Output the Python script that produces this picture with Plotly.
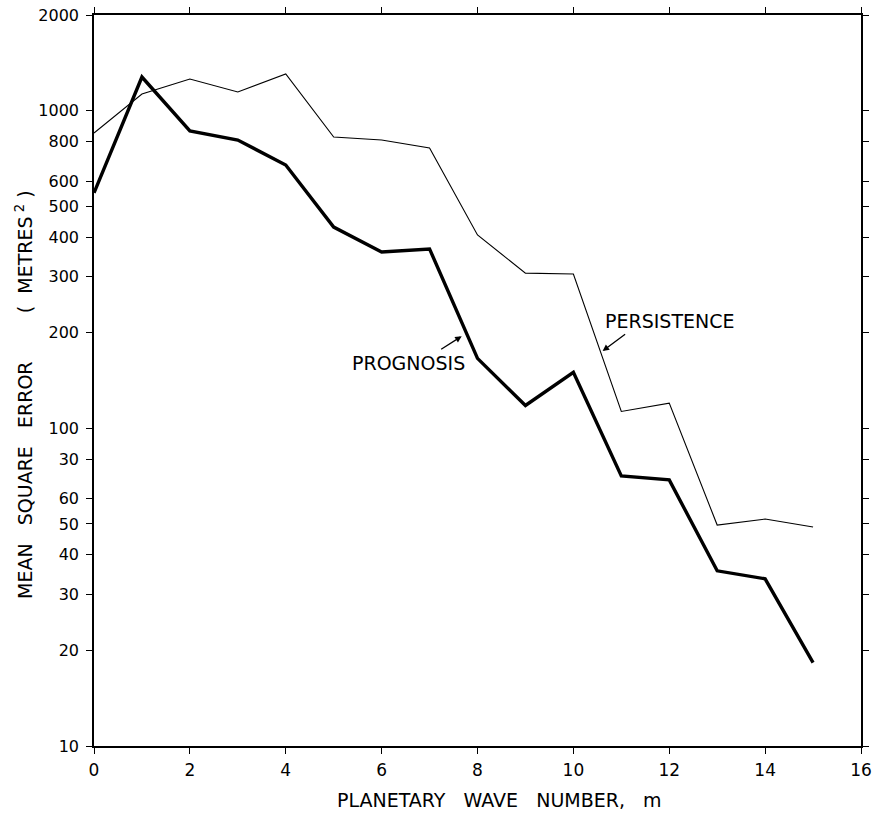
import numpy as np
import plotly.graph_objects as go

# Planetary wave number m
wave_number = list(range(16))

# Mean square error (metres^2) by wave number
persistence = [850, 1128, 1258, 1145, 1305, 826, 808, 763,
               406, 308, 306, 113, 120, 49.6, 51.8, 48.9]
prognosis = [551, 1276, 863, 808, 674, 430, 359, 367,
             166, 118, 150, 70.8, 68.8, 35.6, 33.6, 18.3]

# Y-axis tick positions and their printed labels
y_tick_vals = [10, 20, 30, 40, 50, 60, 80, 100, 200, 300, 400, 500, 600, 800, 1000, 2000]
y_tick_text = ["10", "20", "30", "40", "50", "60", "30", "100", "200", "300", "400",
               "500", "600", "800", "1000", "2000"]
x_tick_vals = list(range(0, 17, 2))

FONT = "DejaVu Sans"

W, H = 873, 813
L, R, T, B = 94, 12, 15, 67
pw, ph = W - L - R, H - T - B


def px_to_paper(px, py):
    return (px - L) / pw, (H - B - py) / ph


fig = go.Figure()
fig.add_trace(go.Scatter(x=wave_number, y=persistence, mode="lines",
                         line=dict(color="black", width=1.1), name="PERSISTENCE",
                         showlegend=False))
fig.add_trace(go.Scatter(x=wave_number, y=prognosis, mode="lines",
                         line=dict(color="black", width=3.4), name="PROGNOSIS",
                         showlegend=False))

axis_common = dict(showgrid=False, zeroline=False, showline=True, linecolor="black",
                   linewidth=1.5, ticks="outside", ticklen=6, tickwidth=1.3,
                   tickcolor="black", mirror="allticks", automargin=False)

fig.update_xaxes(range=[0, 16], tickvals=x_tick_vals, ticklabelstandoff=2,
                 tickfont=dict(family=FONT, size=17, color="black"), **axis_common)
fig.update_yaxes(type="log", range=[1, np.log10(2000)], tickvals=y_tick_vals,
                 ticktext=y_tick_text, ticklabelstandoff=4,
                 tickfont=dict(family=FONT, size=16, color="black"), **axis_common)

xt_x, xt_y = px_to_paper(499, 800)
yt_x, yt_y = px_to_paper(24, 395)

annotations = [
    dict(x=12.0, y=np.log10(218), xref="x", yref="y", text="PERSISTENCE",
         showarrow=False, font=dict(family=FONT, size=19, color="black")),
    dict(x=6.56, y=np.log10(161), xref="x", yref="y", text="PROGNOSIS",
         showarrow=False, font=dict(family=FONT, size=19, color="black")),
    # arrows pointing at the curves
    dict(x=10.61, y=np.log10(175), xref="x", yref="y", text="", showarrow=True,
         ax=24, ay=-18, arrowhead=2, arrowsize=1, arrowwidth=1.3, arrowcolor="black"),
    dict(x=7.67, y=np.log10(195), xref="x", yref="y", text="", showarrow=True,
         ax=-22, ay=14, arrowhead=2, arrowsize=1, arrowwidth=1.3, arrowcolor="black"),
    # axis titles
    dict(x=xt_x, y=xt_y, xref="paper", yref="paper", xanchor="center", yanchor="middle",
         text="PLANETARY   WAVE   NUMBER,   m",
         showarrow=False, font=dict(family=FONT, size=19, color="black")),
    dict(x=yt_x, y=yt_y, xref="paper", yref="paper", xanchor="center", yanchor="middle",
         text="MEAN   SQUARE   ERROR        (  METRES<sup> 2</sup> )",
         showarrow=False, textangle=-90, font=dict(family=FONT, size=19, color="black")),
]

fig.update_layout(width=W, height=H, margin=dict(l=L, r=R, t=T, b=B, autoexpand=False),
                  plot_bgcolor="white", paper_bgcolor="white",
                  annotations=annotations, font=dict(family=FONT))

fig.write_html("out.html")
